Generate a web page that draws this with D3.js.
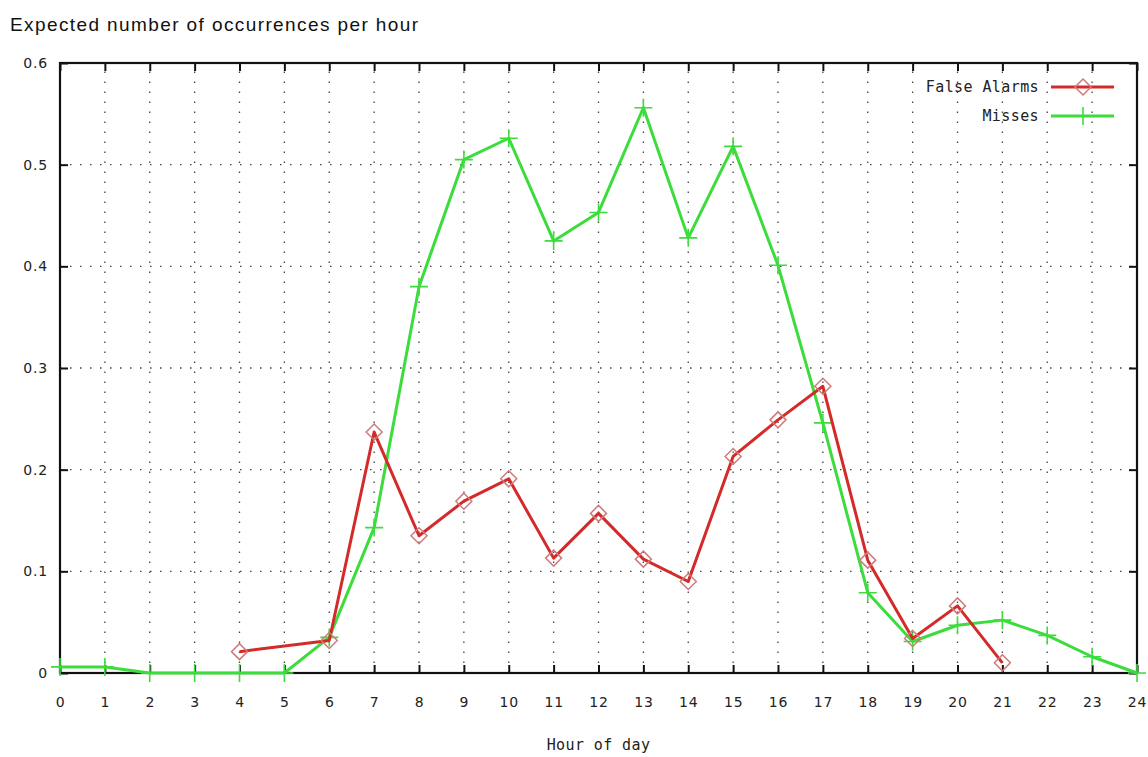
<!DOCTYPE html>
<html>
<head>
<meta charset="utf-8">
<script src="https://cdn.jsdelivr.net/npm/d3@7"></script>
<style>
  html, body { margin: 0; padding: 0; background: #fff; }
  svg { display: block; }
  .tick-label { font-family: "DejaVu Sans", sans-serif; font-size: 14px; fill: #222; letter-spacing: 0.8px; }
  .legend-label { font-family: "DejaVu Sans Mono", monospace; font-size: 15px; fill: #222; letter-spacing: 0.4px; }
</style>
</head>
<body>
<svg id="chart" width="1148" height="757"></svg>
<script>
// Hours of the day on the x axis
const hoursAll = d3.range(0, 25);
const xTicks = d3.range(0, 25);
const yTicks = [0, 0.1, 0.2, 0.3, 0.4, 0.5, 0.6];

// Misses: one value per hour 0..24
const missesHours = hoursAll;
const missesValues = [0.006, 0.006, 0, 0, 0, 0, 0.035, 0.143, 0.38, 0.505, 0.526, 0.425, 0.453,
  0.556, 0.428, 0.518, 0.401, 0.246, 0.079, 0.031, 0.047, 0.052, 0.037, 0.016, 0];

// False alarms: recorded from hour 4 (hour 5 absent) to hour 21
const falseHours = [4, 6, 7, 8, 9, 10, 11, 12, 13, 14, 15, 16, 17, 18, 19, 20, 21];
const falseValues = [0.021, 0.032, 0.237, 0.135, 0.169, 0.191, 0.113, 0.157, 0.112, 0.09,
  0.213, 0.249, 0.282, 0.111, 0.034, 0.066, 0.01];

const seriesNames = ["False Alarms", "Misses"];

const svg = d3.select("#chart");
const plotLeft = 60, plotRight = 1137, plotTop = 63, plotBottom = 673;

const x = d3.scaleLinear().domain([0, 24]).range([plotLeft, plotRight]);
const y = d3.scaleLinear().domain([0, 0.6]).range([plotBottom, plotTop]);

// Title
svg.append("text")
  .attr("x", 10).attr("y", 31)
  .attr("font-family", "Liberation Sans, Arial, sans-serif")
  .attr("font-size", 19)
  .attr("letter-spacing", "1.4px")
  .attr("fill", "#111")
  .text("Expected number of occurrences per hour");

// Dotted grid
const grid = svg.append("g").attr("stroke", "#444").attr("stroke-width", 1.3)
  .attr("stroke-dasharray", "1.5,8.5");
xTicks.slice(1, -1).forEach(h => {
  grid.append("line").attr("x1", x(h)).attr("x2", x(h)).attr("y1", plotBottom).attr("y2", plotTop);
});
yTicks.slice(1, -1).forEach(v => {
  grid.append("line").attr("x1", plotLeft).attr("x2", plotRight).attr("y1", y(v)).attr("y2", y(v));
});

// Axes with inward ticks
const tickLen = 8;
const axB = svg.append("g").attr("transform", `translate(0,${plotBottom})`)
  .call(d3.axisBottom(x).tickValues(xTicks).tickSizeInner(-tickLen).tickSizeOuter(0).tickPadding(24).tickFormat(d3.format("d")));
const axT = svg.append("g").attr("transform", `translate(0,${plotTop})`)
  .call(d3.axisTop(x).tickValues(xTicks).tickSizeInner(-tickLen).tickSizeOuter(0).tickFormat(""));
const axL = svg.append("g").attr("transform", `translate(${plotLeft},0)`)
  .call(d3.axisLeft(y).tickValues(yTicks).tickSizeInner(-tickLen).tickSizeOuter(0).tickPadding(12)
    .tickFormat(d => d === 0 ? "0" : d3.format(".1f")(d)));
const axR = svg.append("g").attr("transform", `translate(${plotRight},0)`)
  .call(d3.axisRight(y).tickValues(yTicks).tickSizeInner(-tickLen).tickSizeOuter(0).tickFormat(""));
[axB, axT, axL, axR].forEach(a => {
  a.select(".domain").remove();
  a.selectAll(".tick line").attr("stroke", "#111").attr("stroke-width", 2);
  a.selectAll("text").attr("class", "tick-label").attr("font-family", null).attr("font-size", null);
});

// Frame
svg.append("rect")
  .attr("x", plotLeft).attr("y", plotTop).attr("width", plotRight - plotLeft).attr("height", plotBottom - plotTop)
  .attr("fill", "none").attr("stroke", "#111").attr("stroke-width", 2.2);

// Axis label
svg.append("text")
  .attr("x", (plotLeft + plotRight) / 2).attr("y", 750)
  .attr("text-anchor", "middle")
  .attr("class", "legend-label")
  .text("Hour of day");

const line = d3.line().x(d => x(d[0])).y(d => y(d[1]));
const red = "#d42a2a", redMark = "#cf7a7a", green = "#3ddc3d";

const missesData = missesHours.map((h, i) => [h, missesValues[i]]);
const falseData = falseHours.map((h, i) => [h, falseValues[i]]);

// Misses line and plus markers
svg.append("path").datum(missesData)
  .attr("d", line).attr("fill", "none").attr("stroke", green).attr("stroke-width", 3)
  .attr("stroke-linejoin", "round");
const plus = (g, cx, cy) => {
  g.append("path").attr("d", `M${cx - 9},${cy}H${cx + 9}M${cx},${cy - 9}V${cy + 9}`)
    .attr("stroke", green).attr("stroke-width", 1.6).attr("fill", "none");
};
const gm = svg.append("g");
missesData.forEach(d => plus(gm, x(d[0]), y(d[1])));

// False alarm line and diamond markers
svg.append("path").datum(falseData)
  .attr("d", line).attr("fill", "none").attr("stroke", red).attr("stroke-width", 3)
  .attr("stroke-linejoin", "round");
const diamond = (g, cx, cy) => {
  g.append("path").attr("d", `M${cx},${cy - 8}L${cx + 8},${cy}L${cx},${cy + 8}L${cx - 8},${cy}Z`)
    .attr("stroke", redMark).attr("stroke-width", 1.5).attr("fill", "none");
};
const gf = svg.append("g");
falseData.forEach(d => diamond(gf, x(d[0]), y(d[1])));

// Legend
const legend = svg.append("g");
seriesNames.forEach((name, i) => {
  const ly = 87 + i * 29;
  legend.append("text").attr("x", 1039).attr("y", ly + 5).attr("text-anchor", "end")
    .attr("class", "legend-label").text(name);
  legend.append("line").attr("x1", 1051).attr("x2", 1114).attr("y1", ly).attr("y2", ly)
    .attr("stroke", i === 0 ? red : green).attr("stroke-width", 3);
  if (i === 0) diamond(legend, 1083, ly); else plus(legend, 1083, ly);
});
</script>
</body>
</html>
